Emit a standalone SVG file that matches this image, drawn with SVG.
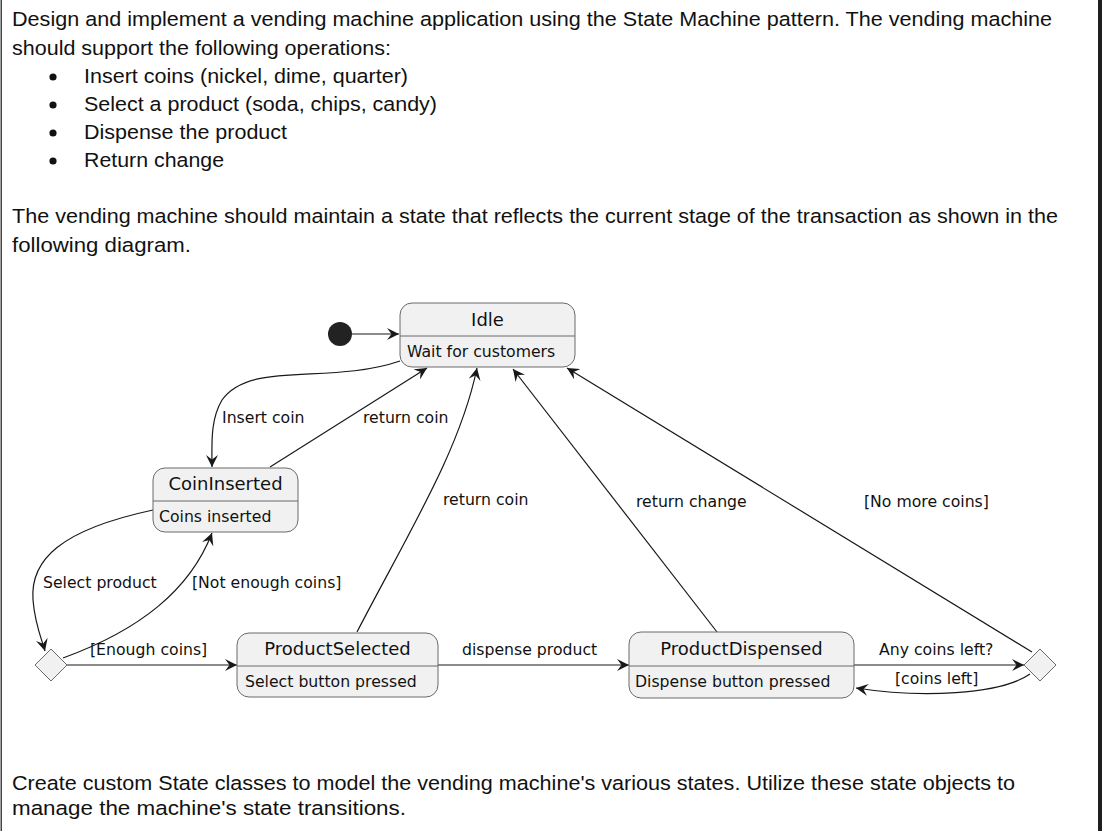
<svg xmlns="http://www.w3.org/2000/svg" width="1102" height="831" viewBox="0 0 1102 831">
<style>
.p{font-family:"Liberation Sans",Arial,sans-serif;font-size:20.5px;fill:#111}
.t{font-family:"DejaVu Sans",Verdana,sans-serif;font-size:18px;fill:#111;text-anchor:middle}
.b{font-family:"DejaVu Sans",Verdana,sans-serif;font-size:15.7px;fill:#111}
.box{fill:#F1F1F1;stroke:#6a6a6a;stroke-width:1}
.div{stroke:#6a6a6a;stroke-width:1}
.c{fill:none;stroke:#181818;stroke-width:1.2;marker-end:url(#arr)}
</style>
<defs>
<marker id="arr" viewBox="0 0 13 12" refX="12" refY="6" markerWidth="13" markerHeight="12" orient="auto" markerUnits="userSpaceOnUse"><path d="M0,0 L12,6 L0,12 L4.5,6 Z" fill="#181818"/></marker>
</defs>
<rect x="0" y="0" width="1102" height="831" fill="#fff"/>
<rect x="0.5" y="0" width="1.5" height="831" fill="#444"/>
<rect x="1098" y="0" width="4" height="831" fill="#1e1e1e"/>
<g id="text-top">
<text class="p" x="12" y="26" textLength="1040" lengthAdjust="spacingAndGlyphs">Design and implement a vending machine application using the State Machine pattern. The vending machine</text>
<text class="p" x="12" y="55" textLength="379" lengthAdjust="spacingAndGlyphs">should support the following operations:</text>
<circle cx="53" cy="77" r="3.6" fill="#111"/>
<circle cx="53" cy="105" r="3.6" fill="#111"/>
<circle cx="53" cy="133" r="3.6" fill="#111"/>
<circle cx="53" cy="161" r="3.6" fill="#111"/>
<text class="p" x="84" y="83" textLength="324" lengthAdjust="spacingAndGlyphs">Insert coins (nickel, dime, quarter)</text>
<text class="p" x="84" y="111" textLength="353" lengthAdjust="spacingAndGlyphs">Select a product (soda, chips, candy)</text>
<text class="p" x="84" y="139" textLength="203" lengthAdjust="spacingAndGlyphs">Dispense the product</text>
<text class="p" x="84" y="167" textLength="140" lengthAdjust="spacingAndGlyphs">Return change</text>
<text class="p" x="12" y="223" textLength="1046" lengthAdjust="spacingAndGlyphs">The vending machine should maintain a state that reflects the current stage of the transaction as shown in the</text>
<text class="p" x="12" y="252" textLength="179" lengthAdjust="spacingAndGlyphs">following diagram.</text>
</g>
<g id="connectors">
<path class="c" d="M352,334 L399,334"/>
<path class="c" d="M400,361 C330,385 250,360 222,400 C210,420 212,445 212,467"/>
<path class="c" d="M270,467 L427,368"/>
<path class="c" d="M357,632 C410,530 460,450 477,368"/>
<path class="c" d="M717,632 L513,369"/>
<path class="c" d="M1032,652 L567,368"/>
<path class="c" d="M153,510 C60,530 30,560 33,600 C35,625 42,640 45,651"/>
<path class="c" d="M63,658 C140,630 190,590 212,533"/>
<path class="c" d="M67,665 L237,665"/>
<path class="c" d="M438,665 L629,665"/>
<path class="c" d="M854,665 L1024,665"/>
<path class="c" d="M1030,674 C1000,695 920,698 856,688"/>
</g>
<g id="labels">
<text class="b" x="222" y="423">Insert coin</text>
<text class="b" x="363" y="423">return coin</text>
<text class="b" x="443" y="505">return coin</text>
<text class="b" x="636" y="507">return change</text>
<text class="b" x="864" y="507">[No more coins]</text>
<text class="b" x="43" y="588">Select product</text>
<text class="b" x="192" y="588">[Not enough coins]</text>
<text class="b" x="90" y="655">[Enough coins]</text>
<text class="b" x="462" y="655">dispense product</text>
<text class="b" x="879" y="655">Any coins left?</text>
<text class="b" x="895" y="684">[coins left]</text>
</g>
<g id="start"><circle cx="340" cy="334" r="12" fill="#222"/></g>
<g id="idle">
<rect class="box" x="400" y="303" width="175" height="64" rx="12"/>
<line class="div" x1="400" y1="336" x2="575" y2="336"/>
<text class="t" x="487.5" y="326">Idle</text>
<text class="b" x="407" y="357">Wait for customers</text>
</g>
<g id="coininserted">
<rect class="box" x="153" y="468" width="145" height="64" rx="12"/>
<line class="div" x1="153" y1="501" x2="298" y2="501"/>
<text class="t" x="225.5" y="490">CoinInserted</text>
<text class="b" x="159" y="522">Coins inserted</text>
</g>
<g id="productselected">
<rect class="box" x="237" y="633" width="201" height="64" rx="12"/>
<line class="div" x1="237" y1="666" x2="438" y2="666"/>
<text class="t" x="337.5" y="655">ProductSelected</text>
<text class="b" x="245" y="687">Select button pressed</text>
</g>
<g id="productdispensed">
<rect class="box" x="629" y="632" width="225" height="66" rx="12"/>
<line class="div" x1="629" y1="666" x2="854" y2="666"/>
<text class="t" x="741.5" y="655">ProductDispensed</text>
<text class="b" x="635" y="687">Dispense button pressed</text>
</g>
<g id="choice1"><polygon class="box" points="51,649 67,665 51,681 35,665"/></g>
<g id="choice2"><polygon class="box" points="1040,649 1056,665 1040,681 1024,665"/></g>
<g id="text-bottom">
<text class="p" x="12" y="790" textLength="1003" lengthAdjust="spacingAndGlyphs">Create custom State classes to model the vending machine's various states. Utilize these state objects to</text>
<text class="p" x="12" y="815" textLength="394" lengthAdjust="spacingAndGlyphs">manage the machine's state transitions.</text>
</g>
</svg>
